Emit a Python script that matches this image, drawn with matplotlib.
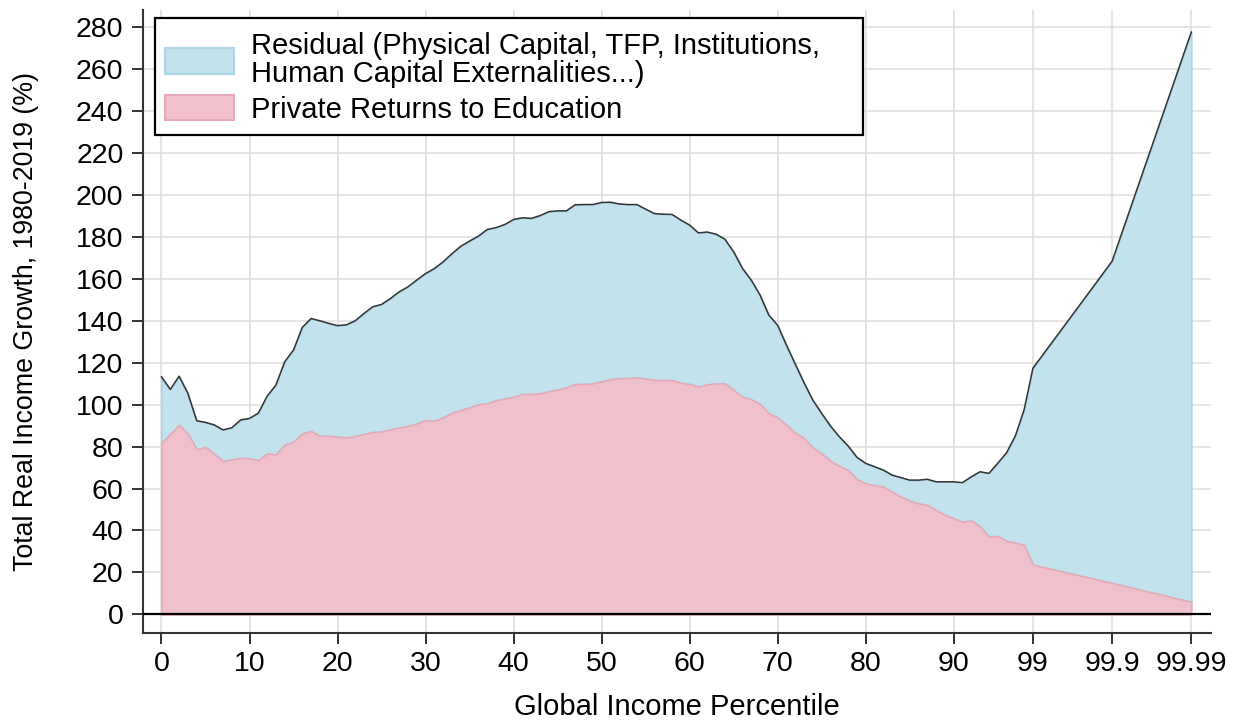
import numpy as np
import matplotlib

matplotlib.use('Agg')

import matplotlib.pyplot as plt
from matplotlib.patches import Patch, Rectangle

plt.rcParams['font.family'] = ['Liberation Sans', 'DejaVu Sans']

# x positions: percentiles 0..99 one step each, then p99.9 and p99.99 (g-percentile index)
pos = list(range(0, 100)) + [108, 117]
tick_pos = [0, 10, 20, 30, 40, 50, 60, 70, 80, 90, 99, 108, 117]
tick_lab = ['0', '10', '20', '30', '40', '50', '60', '70', '80', '90', '99', '99.9', '99.99']

# total real income growth 1980-2019 (%)
total = [113.2, 107.2, 113.5, 105.3, 92.3, 91.5, 90.3, 87.9, 89.0, 92.7,
         93.4, 95.9, 104.0, 109.3, 120.4, 126.0, 136.8, 141.0, 139.9, 138.7,
         137.6, 138.0, 139.9, 143.4, 146.6, 147.7, 150.5, 153.7, 156.1, 159.3,
         162.4, 164.8, 168.0, 171.9, 175.4, 177.9, 180.2, 183.4, 184.3, 185.8,
         188.2, 189.0, 188.7, 190.0, 191.9, 192.3, 192.3, 195.2, 195.3, 195.3,
         196.3, 196.4, 195.6, 195.3, 195.3, 193.1, 191.0, 190.7, 190.6, 187.9,
         185.5, 181.8, 182.2, 181.2, 178.8, 172.8, 164.9, 159.3, 152.2, 142.6,
         137.8, 128.3, 119.3, 110.4, 102.1, 95.8, 89.8, 84.7, 80.3, 74.9,
         72.0, 70.4, 68.8, 66.4, 65.2, 64.0, 64.0, 64.4, 63.2, 63.2,
         63.2, 62.8, 65.6, 68.0, 67.2, 72.0, 77.0, 85.0, 97.5, 117.3,
         168.3, 277.5]

# part explained by private returns to education
educ = [81.8, 86.0, 90.3, 86.2, 78.6, 79.8, 76.4, 73.2, 73.8, 74.6,
        74.4, 73.5, 76.7, 76.2, 80.9, 82.3, 86.2, 87.4, 85.1, 85.1,
        84.7, 84.3, 85.0, 85.9, 86.9, 87.2, 88.2, 89.0, 89.8, 91.0,
        92.6, 92.3, 93.9, 96.1, 97.4, 98.6, 100.1, 100.5, 102.1, 102.9,
        103.7, 105.0, 105.0, 105.3, 106.4, 107.2, 108.2, 109.8, 109.8, 110.1,
        111.0, 112.0, 112.6, 112.6, 112.9, 112.4, 111.7, 111.7, 111.7, 110.4,
        109.8, 108.5, 109.6, 110.1, 110.1, 106.9, 103.7, 102.5, 100.3, 95.8,
        93.9, 90.3, 86.6, 83.9, 79.5, 76.7, 73.2, 70.7, 68.8, 64.4,
        62.4, 61.6, 60.8, 58.5, 56.1, 54.2, 52.9, 52.1, 49.8, 47.4,
        45.8, 44.2, 44.7, 41.8, 37.1, 37.4, 35.1, 34.2, 33.1, 23.7,
        15.0, 6.0]

blue = '#c2e2ee'
blue_edge = '#aad6e6'
pink = '#f0c1cc'
pink_edge = '#e6aab9'

W, H = 1243, 722

x = np.array(pos)
tot = np.array(total)
edu = np.array(educ)

fig = plt.figure(figsize=(W / 100, H / 100), dpi=100)
ax = fig.add_axes([143 / W, 1 - 632.7 / H, (1210.7 - 143) / W, (632.7 - 10) / H])

ax.fill_between(x, edu, tot, facecolor=blue, edgecolor=blue_edge, lw=1.2, zorder=2)
ax.fill_between(x, 0, edu, facecolor=pink, edgecolor=pink_edge, lw=1.2, zorder=3)
ax.plot(x, tot, color='#333333', lw=1.1, zorder=4)
ax.axhline(0, color='black', lw=1.6, zorder=5)

ax.set_xlim(-2.1, 119.2)
ax.set_ylim(-8.7, 288)
ax.set_xticks(tick_pos)
ax.set_xticklabels(tick_lab)
ax.set_yticks(np.arange(0, 281, 20))

ax.grid(True, color='#e0e0e0', lw=1.2, zorder=0)
ax.set_axisbelow(True)

for s in ['top', 'right']:
    ax.spines[s].set_visible(False)
for s in ['left', 'bottom']:
    ax.spines[s].set_color('#333333')
    ax.spines[s].set_linewidth(1.5)

ax.tick_params(axis='both', labelsize=20.5, colors='#333333', labelcolor='black',
               length=8, width=1.4, direction='out')
ax.tick_params(axis='x', pad=5)
ax.tick_params(axis='y', pad=6)

ax.set_ylabel('Total Real Income Growth, 1980-2019 (%)', fontsize=19.3, va='center')
ax.yaxis.set_label_coords((26 - 143) / (1210.7 - 143), 0.5)
ax.set_xlabel('Global Income Percentile', fontsize=21, va='baseline')
ax.xaxis.set_label_coords((677 - 143) / (1210.7 - 143), (632.7 - 715) / (632.7 - 10))

# legend frame drawn by hand (text sits far from the right edge)
fig.patches.append(Rectangle((155 / W, 1 - 135 / H), (863 - 155) / W, (135 - 18) / H,
                             transform=fig.transFigure, facecolor='white',
                             edgecolor='black', lw=1.6, zorder=10))

handles = [Patch(facecolor=blue, edgecolor=blue_edge, lw=1.5),
           Patch(facecolor=pink, edgecolor=pink_edge, lw=1.5)]
labels = ['Residual (Physical Capital, TFP, Institutions,\nHuman Capital Externalities...)',
          'Private Returns to Education']
leg = fig.legend(handles, labels, loc='upper left', bbox_to_anchor=(165 / W, 1 - 32 / H),
                 fontsize=21, frameon=False, borderaxespad=0, borderpad=0,
                 handlelength=2.35, handleheight=0.95, handletextpad=0.6,
                 labelspacing=0.25)
leg.set_zorder(11)
leg.get_texts()[0].set_linespacing(1.0)

fig.savefig('out.png', dpi=100)
